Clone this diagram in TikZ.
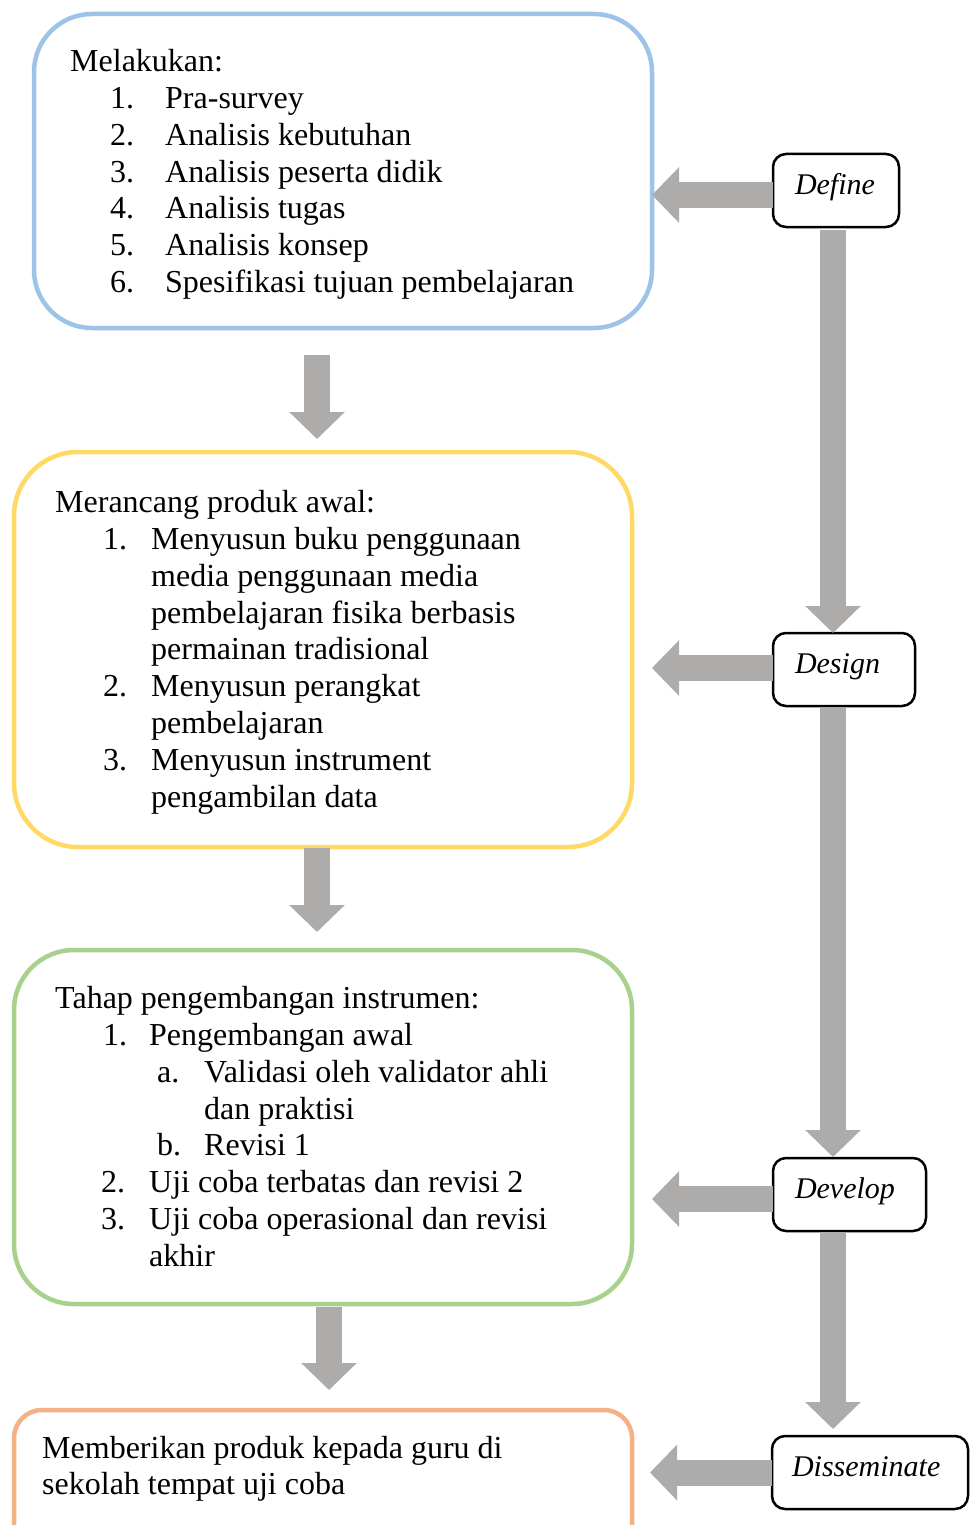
\documentclass[tikz,border=0pt]{standalone}
\usepackage{fontspec}
\setmainfont{Liberation Serif}
\usetikzlibrary{arrows.meta}
\definecolor{stageblue}{HTML}{9DC3E6}
\definecolor{stageyellow}{HTML}{FFD966}
\definecolor{stagegreen}{HTML}{A9D18E}
\definecolor{stageorange}{HTML}{F4B183}
\definecolor{flowgray}{HTML}{AEABAB}
\begin{document}
\begin{tikzpicture}[x=1pt,y=-1pt,
  font=\fontsize{32}{36.8}\selectfont,
  stage/.style={draw=#1, line width=4.5pt, fill=white, inner sep=0pt, outer sep=0pt},
  phase/.style={draw=black, line width=2.5pt, rounded corners=13pt, fill=white,
    inner xsep=22pt, inner ysep=0pt, outer sep=0pt, minimum height=73pt,
    align=left, text height=14pt, text depth=7pt,
    font=\fontsize{30}{34}\selectfont\itshape},
  txt/.style={anchor=base west, inner sep=0pt},
  flow/.style={draw=flowgray, line width=26pt, -{Triangle[width=54pt, length=27pt]}}
]
\clip (0,0) rectangle (973,1525);
\fill[white] (0,0) rectangle (973,1525);

% stage boxes
\node[stage=stageblue, rounded corners=58pt, minimum width=618pt, minimum height=314pt] (b1) at (343,171) {};
\node[stage=stageyellow, rounded corners=64pt, minimum width=618pt, minimum height=395pt] (b2) at (323,649.5) {};
\node[stage=stagegreen, rounded corners=60pt, minimum width=618pt, minimum height=354pt] (b3) at (323,1127) {};
\node[stage=stageorange, rounded corners=28pt, minimum width=618pt, minimum height=150pt] (b4) at (323,1485) {};

% phase boxes
\node[phase, text width=82pt] (def) at (836,190.5) {Define};
\node[phase, text width=98pt] (des) at (844,669.5) {Design};
\node[phase, text width=109pt] (dev) at (849.5,1194.5) {Develop};
\node[phase, text width=156pt, inner xsep=20pt] (dis) at (870,1472.5) {Disseminate};

% arrows from phases to stages (all tips end on one vertical line)
\coordinate (defout) at ([yshift=-4.5pt]def.west);
\coordinate (desout) at ([yshift=1.5pt]des.west);
\coordinate (devout) at ([yshift=-4.5pt]dev.west);
\coordinate (disout) at ([yshift=0pt]dis.west);
\draw[flow] (defout) -- (defout -| b1.east);
\draw[flow, shorten >=20pt] (desout) -- (desout -| b2.east);
\draw[flow, shorten >=20pt] (devout) -- (devout -| b3.east);
\draw[flow, shorten >=18pt] (disout) -- (disout -| b4.east);

% arrows between phases
\coordinate (rx) at (833,0);
\draw[flow, shorten <=3pt] (def.south -| rx) -- (des.north -| rx);
\draw[flow, shorten <=1pt, shorten >=1pt] (des.south -| rx) -- (dev.north -| rx);
\draw[flow, shorten <=1pt, shorten >=7pt] (dev.south -| rx) -- (dis.north -| rx);

% arrows between stages
\coordinate (lx) at (317,0);
\coordinate (lx2) at (329,0);
\draw[flow, shorten <=27pt, shorten >=13pt] (b1.south -| lx) -- (b2.north -| lx);
\draw[flow, shorten <=1pt, shorten >=18pt] (b2.south -| lx) -- (b3.north -| lx);
\draw[flow, shorten <=3pt, shorten >=20pt] (b3.south -| lx2) -- (b4.north -| lx2);

% define stage text
\node[txt] (m0) at (70,72) {Melakukan:};
\node[txt] (m1n) at (110,108.5) {1.};  \node[txt] (m1) at (165,108.5) {Pra-survey};
\node[txt] (m2n) at (110,145.3) {2.};  \node[txt] (m2) at (165,145.3) {Analisis kebutuhan};
\node[txt] (m3n) at (110,182.1) {3.};  \node[txt] (m3) at (165,182.1) {Analisis peserta didik};
\node[txt] (m4n) at (110,218.9) {4.};  \node[txt] (m4) at (165,218.9) {Analisis tugas};
\node[txt] (m5n) at (110,255.7) {5.};  \node[txt] (m5) at (165,255.7) {Analisis konsep};
\node[txt] (m6n) at (110,292.5) {6.};  \node[txt] (m6) at (165,292.5) {Spesifikasi tujuan pembelajaran};

% design stage text
\node[txt] (r0) at (55,512) {Merancang produk awal:};
\node[txt] (r1n) at (103,549.5) {1.};  \node[txt] (r1a) at (151,549.5) {Menyusun buku penggunaan};
\node[txt] (r1b) at (151,586.3) {media penggunaan media};
\node[txt] (r1c) at (151,623.1) {pembelajaran fisika berbasis};
\node[txt] (r1d) at (151,659.9) {permainan tradisional};
\node[txt] (r2n) at (103,696.7) {2.};  \node[txt] (r2a) at (151,696.7) {Menyusun perangkat};
\node[txt] (r2b) at (151,733.5) {pembelajaran};
\node[txt] (r3n) at (103,770.3) {3.};  \node[txt] (r3a) at (151,770.3) {Menyusun instrument};
\node[txt] (r3b) at (151,807.1) {pengambilan data};

% develop stage text
\node[txt] (p0) at (55,1008.5) {Tahap pengembangan instrumen:};
\node[txt] (p1n) at (103,1045.5) {1.};  \node[txt] (p1) at (149,1045.5) {Pengembangan awal};
\node[txt] (pan) at (157,1082.3) {a.};  \node[txt] (pa1) at (204,1082.3) {Validasi oleh validator ahli};
\node[txt] (pa2) at (204,1119.1) {dan praktisi};
\node[txt] (pbn) at (157,1155.9) {b.};  \node[txt] (pb) at (204,1155.9) {Revisi 1};
\node[txt] (p2n) at (101,1192.7) {2.};  \node[txt] (p2) at (149,1192.7) {Uji coba terbatas dan revisi 2};
\node[txt] (p3n) at (101,1229.5) {3.};  \node[txt] (p3a) at (149,1229.5) {Uji coba operasional dan revisi};
\node[txt] (p3b) at (149,1266.3) {akhir};

% disseminate stage text
\node[txt] (s1) at (42,1458) {Memberikan produk kepada guru di};
\node[txt] (s2) at (42,1494.8) {sekolah tempat uji coba};
\end{tikzpicture}
\end{document}
